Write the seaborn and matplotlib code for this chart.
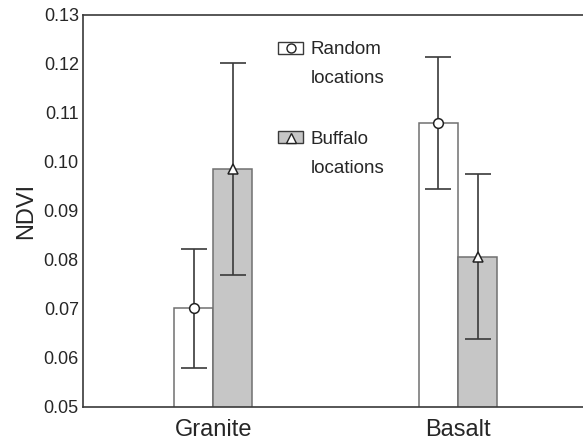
import matplotlib
matplotlib.use("Agg")
import matplotlib.pyplot as plt
import seaborn as sns
import pandas as pd
import numpy as np
from matplotlib.patches import Patch
from matplotlib.lines import Line2D
from matplotlib.legend import Legend
from matplotlib.legend_handler import HandlerTuple

# ---- data ----
rock_types = ["Granite", "Basalt"]
groups = ["Random locations", "Buffalo locations"]
legend_lines = [["Random", "locations"], ["Buffalo", "locations"]]
random_mean = [0.0701, 0.1078]
random_low = [0.0578, 0.0944]
random_high = [0.0822, 0.1213]
buffalo_mean = [0.0985, 0.0805]
buffalo_low = [0.0768, 0.0639]
buffalo_high = [0.1201, 0.0974]
y_ticks = [0.05, 0.06, 0.07, 0.08, 0.09, 0.10, 0.11, 0.12, 0.13]

sns.set_theme(style="white")
plt.rcParams["font.family"] = ["Liberation Sans", "DejaVu Sans"]

df = pd.DataFrame({
    "rock": rock_types * 2,
    "group": [groups[0]] * 2 + [groups[1]] * 2,
    "ndvi": random_mean + buffalo_mean,
    "low": random_low + buffalo_low,
    "high": random_high + buffalo_high,
})

fill_colors = {groups[0]: "#ffffff", groups[1]: "#c6c6c6"}
edge_col = "#707070"
dark = "#3a3a3a"

fig = plt.figure(figsize=(5.83, 4.41), dpi=100)
ax = fig.add_axes([83 / 583, 34.3 / 441, 500 / 583, 392 / 441])

sns.barplot(data=df, x="rock", y="ndvi", hue="group", order=rock_types,
            hue_order=groups, palette=fill_colors, width=0.32, dodge=True,
            errorbar=None, edgecolor=edge_col, linewidth=1.1, legend=False,
            ax=ax)

markers = {groups[0]: "o", groups[1]: "^"}
# patches are ordered by hue then category
for i, g in enumerate(groups):
    sub = df[df["group"] == g].set_index("rock").loc[rock_types]
    pats = ax.patches[i * len(rock_types):(i + 1) * len(rock_types)]
    xs = [p.get_x() + p.get_width() / 2 for p in pats]
    m = sub["ndvi"].values
    yerr = np.vstack([m - sub["low"].values, sub["high"].values - m])
    ax.errorbar(xs, m, yerr=yerr, fmt="none", ecolor=dark, elinewidth=1.2,
                capsize=9.6, capthick=1.2, zorder=3)
    ax.plot(xs, m, ls="none", marker=markers[g], ms=7, mfc="white",
            mec="#222222", mew=1.1, zorder=4)

ax.set_xlim(-0.5325, 1.511)
ax.set_ylim(0.05, 0.13)
ax.set_yticks(y_ticks)
ax.set_yticklabels([f"{v:.2f}" for v in y_ticks], fontsize=13)
ax.tick_params(axis="y", direction="in", length=4, width=1, color=dark, pad=3)
ax.tick_params(axis="x", length=0, labelsize=17, pad=9)
ax.set_xlabel("")
ax.set_ylabel("NDVI", fontsize=17, labelpad=5)
for s in ["left", "top", "bottom"]:
    ax.spines[s].set_color(dark)
    ax.spines[s].set_linewidth(1.2)
ax.spines["right"].set_visible(False)

# legend: one small legend per group, handle beside the first line
anchors = [(0.3906, 0.9317), (0.3906, 0.7033)]
for i, g in enumerate(groups):
    h = (Patch(facecolor=fill_colors[g], edgecolor=dark, linewidth=1.0),
         Line2D([], [], ls="none", marker=markers[g], ms=6.5, mfc="white",
                mec="#222222"))
    blank = Line2D([], [], ls="none")
    leg = Legend(ax, [h, blank], legend_lines[i],
                 handler_map={tuple: HandlerTuple(ndivide=1)},
                 loc="upper left", bbox_to_anchor=anchors[i], frameon=False,
                 fontsize=13.5, handlelength=1.33, handleheight=0.62,
                 handletextpad=0.39, labelspacing=0.62, borderpad=0,
                 borderaxespad=0)
    ax.add_artist(leg)

fig.savefig("out.png", dpi=100)
